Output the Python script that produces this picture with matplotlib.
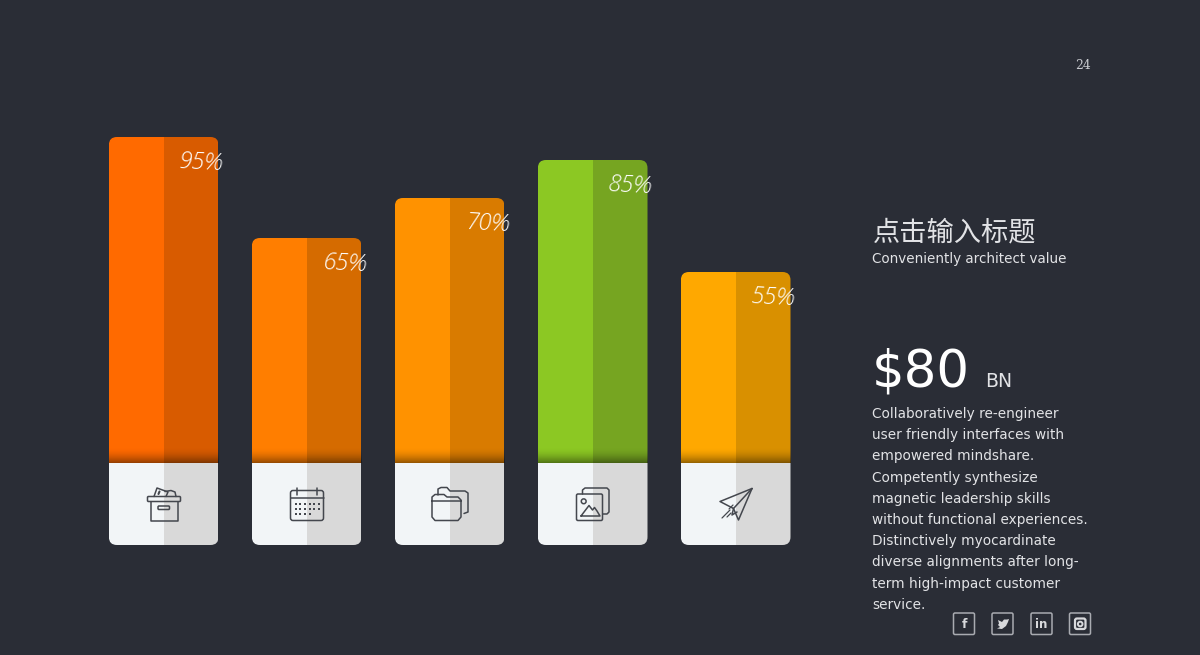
import numpy as np
import matplotlib
matplotlib.use('Agg')
import matplotlib.pyplot as plt
from matplotlib.patches import FancyBboxPatch, Circle, Polygon
from matplotlib.colors import LinearSegmentedColormap

BG = '#2a2d36'

# values
percent_labels = ['95%', '65%', '70%', '85%', '55%']
bar_heights = [326, 225, 265, 303, 191]   # drawn height, not proportional to the labels
left_colors = ['#ff6a00', '#ff7e00', '#ff9200', '#8cc823', '#ffa800']
right_colors = ['#d85b00', '#d56b00', '#d97b00', '#76a521', '#d99000']
title_cn = '点击输入标题'
subtitle = 'Conveniently architect value'
big_number = '$80'
big_unit = 'BN'
page_no = '24'
body_lines = ['Collaboratively re-engineer',
              'user friendly interfaces with',
              'empowered mindshare.',
              'Competently synthesize',
              'magnetic leadership skills',
              'without functional experiences.',
              'Distinctively myocardinate',
              'diverse alignments after long-',
              'term high-impact customer',
              'service.']

fig = plt.figure(figsize=(12, 6.55), dpi=100, facecolor=BG)

# bars: x in pixels, y = height above the bar baseline
ax = fig.add_axes([0, 0, 1, 1], facecolor=BG)
ax.set_xlim(0, 1200)
ax.set_ylim(-192, 463)
ax.axis('off')

centers = 163.7 + 143 * np.arange(len(bar_heights))
half = 54.8
panel = 82
fade = LinearSegmentedColormap.from_list('fade', [(0, 0, 0, 0), (0, 0, 0, 0.42)])

for i, h in enumerate(bar_heights):
    c = centers[i]
    clip = FancyBboxPatch((c - half, -panel), half * 2, h + panel,
                          boxstyle='round,pad=0,rounding_size=8',
                          transform=ax.transData, fc='none', ec='none')
    ax.add_patch(clip)
    parts = [ax.bar(c - half / 2, h, half, color=left_colors[i], lw=0)[0],
             ax.bar(c + half / 2, h, half, color=right_colors[i], lw=0)[0],
             ax.bar(c - half / 2, -panel, half, color='#f2f5f7', lw=0)[0],
             ax.bar(c + half / 2, -panel, half, color='#d9d9d9', lw=0)[0]]
    for p in parts:
        p.set_clip_path(clip)
    # dark fade just above the white panel
    ax.imshow(np.linspace(0, 1, 40)[:, None] ** 1.8, cmap=fade, aspect='auto', origin='upper',
              extent=(c - half, c + half, 0, 16), zorder=3)
    ax.text(c + 37.5, h - 26, percent_labels[i], color='white', fontsize=17, ha='center', va='center',
            family='Open Sans', style='italic', fontweight='light', rotation=-3, zorder=5)
ax.set_xlim(0, 1200)
ax.set_ylim(-192, 463)

# everything else: plain pixel coords, y down
deco = fig.add_axes([0, 0, 1, 1], facecolor='none')
deco.set_xlim(0, 1200)
deco.set_ylim(655, 0)
deco.axis('off')

ICON = '#44474e'


def line(xs, ys, lw=1.1, color=ICON):
    deco.plot(xs, ys, color=color, lw=lw, solid_capstyle='round', solid_joinstyle='round')


def rbox(x0, y0, x1, y1, r=1.5, lw=1.1, color=ICON):
    deco.add_patch(FancyBboxPatch((x0, y0), x1 - x0, y1 - y0, boxstyle='round,pad=0,rounding_size=%s' % r,
                                  fc='none', ec=color, lw=lw))


# archive box
rbox(147.5, 496.5, 180.5, 501.5, 1)
line([150.5, 150.5, 177.5, 177.5], [501.5, 520.5, 520.5, 501.5])
rbox(158, 506, 169.5, 509.5, 1)
line([154, 157, 168, 166], [496.5, 488, 492, 496.5])
line([165, 171, 175, 176], [491.5, 490.5, 492, 496.5])
line([158.5, 159.5], [494, 491.5], lw=1.5)

# calendar
rbox(290.5, 490.5, 323.5, 520.5, 2.5)
line([297, 297], [487.5, 494.5])
line([316.5, 316.5], [487.5, 494.5])
line([290.5, 323.5], [498, 498])
for row, n in enumerate([6, 6, 4]):
    deco.scatter(295.5 + 4.7 * np.arange(n), [503.5 + 5.4 * row] * n, s=4, marker='s', color=ICON, lw=0)

# folders
line([438, 438, 441, 447, 450, 465, 468, 468, 464],
     [495, 489, 487.5, 487.5, 491, 491, 493, 512, 513.5])
line([461, 432, 432, 435, 444, 447, 458, 461, 461, 458, 435, 432, 432],
     [501, 501, 497, 494.5, 494.5, 497, 497, 500, 517, 520.5, 520.5, 517, 501])

# pictures
rbox(576.5, 494, 602.5, 520.5, 1.5)
line([582.5, 582.5, 585, 607, 609, 609, 607, 603],
     [494, 490, 488, 488, 490, 512, 514, 514])
deco.add_patch(Circle((583.7, 501.3), 2.4, fc='none', ec=ICON, lw=1.1))
line([581, 589, 592.5, 594.5, 597, 600, 581],
     [516, 505.5, 510, 507.5, 511, 516, 516])

# paper plane
line([752, 720, 733.5, 738.5, 752], [488.5, 501.5, 508.5, 520, 488.5])
line([733.5, 752], [508.5, 488.5])
line([733.5, 732, 737], [508.5, 515, 512])
line([722, 730], [518, 510], lw=0.9)
line([727, 731], [517, 513], lw=0.9)
line([729, 733], [509, 505], lw=0.9)

# right column text
deco.text(1083.5, 65.5, page_no, color='#c9cbd0', fontsize=8.8, family='DejaVu Serif', ha='center', va='center')
deco.text(873, 232.5, title_cn, color='#e2e3e6', fontsize=19.6, family='Noto Sans CJK SC',
          ha='left', va='center')
deco.text(872, 258.5, subtitle, color='#e2e3e6', fontsize=9.75, family='DejaVu Sans', ha='left', va='center')
deco.text(872, 387, big_number, color='white', fontsize=37, family='DejaVu Sans', ha='left', va='baseline')
deco.text(985, 387, big_unit, color='#e2e3e6', fontsize=13.5, family='DejaVu Sans', ha='left', va='baseline')
for i, txt in enumerate(body_lines):
    deco.text(872, 414 + 21.2 * i, txt, color='#e2e3e6', fontsize=9.78, family='DejaVu Sans',
              ha='left', va='center')

# social icons
SOC = '#a9abb1'
GLYPH = '#d8d9dc'
for x0 in [953.5, 992, 1031, 1069.5]:
    rbox(x0, 613, x0 + 21, 634.5, 1.5, lw=1.1, color=SOC)
deco.text(964, 624, 'f', color=GLYPH, fontsize=9, fontweight='bold', ha='center', va='center')
deco.add_patch(Polygon([(998, 620), (1002, 622), (1004, 619.5), (1007, 619.5), (1009, 619), (1008, 622),
                        (1006, 626), (1002, 629), (997, 628.5), (1000, 627), (998, 625), (999, 623.5)],
                       fc=GLYPH, ec='none'))
deco.text(1041.5, 624, 'in', color=GLYPH, fontsize=8.5, fontweight='bold', ha='center', va='center')
rbox(1075, 618.5, 1085.5, 629, 2, lw=1.6, color=GLYPH)
deco.add_patch(Circle((1080.2, 624), 2.3, fc='none', ec=GLYPH, lw=1.4))

# thin light edge along the bottom of the slide
deco.plot([0, 1200], [654.6, 654.6], color='#b4b6bc', lw=0.7)

fig.savefig('out.png', dpi=100, facecolor=BG)
